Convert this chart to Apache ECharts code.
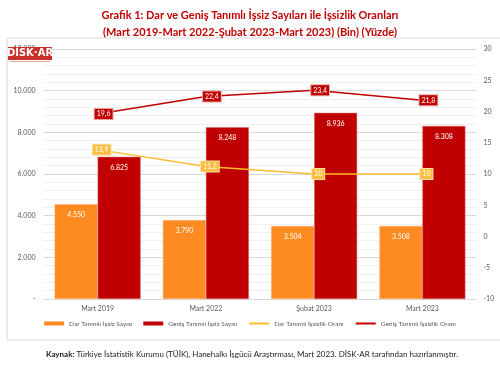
<!DOCTYPE html>
<html>
<head>
<meta charset="utf-8">
<script src="https://cdn.jsdelivr.net/npm/echarts@6/dist/echarts.min.js"></script>
<style>
html,body{margin:0;padding:0;background:#fff;}
#c{width:500px;height:366px;}
</style>
</head>
<body>
<div id="c"></div>
<script>
const categories = ['Mart 2019', 'Mart 2022', 'Şubat 2023', 'Mart 2023'];
const narrowUnemployed = [4550, 3790, 3504, 3508];
const broadUnemployed = [6825, 8248, 8936, 8308];
const narrowRate = [13.9, 11.2, 10, 10];
const broadRate = [19.6, 22.4, 23.4, 21.8];
const seriesNames = ['Dar Tanımlı İşsiz Sayısı', 'Geniş Tanımlı İşsiz Sayısı', 'Dar Tanımlı İşsizlik Oranı', 'Geniş Tanımlı İşsizlik Oranı'];
const titleLines = ['Grafik 1: Dar ve Geniş Tanımlı İşsiz Sayıları ile İşsizlik Oranları', '(Mart 2019-Mart 2022-Şubat 2023-Mart 2023) (Bin) (Yüzde)'];
const sourceBold = 'Kaynak:';
const sourceText = ' Türkiye İstatistik Kurumu (TÜİK), Hanehalkı İşgücü Araştırması, Mart 2023. DİSK-AR tarafından hazırlanmıştır.';

const FONT = 'Lato';
const fmtThousands = v => v === 0 ? '-' : String(v).replace(/\B(?=(\d{3})+(?!\d))/g, '.');
const fmtDec = v => String(v).replace('.', ',');

const chart = echarts.init(document.getElementById('c'), null, {renderer: 'canvas'});
chart.setOption({
  animation: false,
  backgroundColor: '#fff',
  textStyle: {fontFamily: FONT},
  title: {
    text: titleLines.join('\n'),
    left: 'center', top: 2,
    textStyle: {fontFamily: FONT, fontWeight: 'bold', fontSize: 11, color: '#c00000', lineHeight: 17}
  },
  graphic: [
    {type: 'rect', shape: {x: 7, y: 38, width: 500, height: 302}, style: {fill: 'none', stroke: '#d9d9d9', lineWidth: 1}, z: -10},
    {type: 'rect', shape: {x: 8, y: 47, width: 44, height: 13}, style: {fill: '#c9302c'}, z: 100},
    {type: 'text', x: 30, y: 53.5, style: {text: 'DİSK·AR', fill: '#fff', font: 'bold 10px "DejaVu Sans"', align: 'center', verticalAlign: 'middle'}, z: 101},
    {type: 'rect', shape: {x: 10, y: 61, width: 40, height: 1}, style: {fill: '#e7a6a6'}, z: 100},
    {type: 'text', x: 252, y: 354, style: {
      rich: {b: {fontWeight: 'bold', fontSize: 8, fontFamily: FONT, fill: '#222'}, n: {fontSize: 8, fontFamily: FONT, fill: '#222'}},
      text: '{b|' + sourceBold + '}{n|' + sourceText + '}', align: 'center', verticalAlign: 'middle'
    }}
  ],
  legend: {
    bottom: 34, left: 'center',
    itemWidth: 20, itemHeight: 4, itemGap: 11,
    textStyle: {fontFamily: FONT, fontSize: 6.5, color: '#595959'},
    data: [
      {name: seriesNames[0], icon: 'rect', itemStyle: {borderWidth: 0}},
      {name: seriesNames[1], icon: 'rect', itemStyle: {borderWidth: 0}},
      {name: seriesNames[2], itemStyle: {opacity: 0}},
      {name: seriesNames[3], itemStyle: {opacity: 0}}
    ]
  },
  grid: {left: 43.5, right: 23.5, top: 49, bottom: 67},
  xAxis: {
    type: 'category', data: categories,
    axisLine: {lineStyle: {color: '#d9d9d9'}},
    axisTick: {show: false},
    axisLabel: {fontFamily: FONT, fontSize: 7, color: '#595959', margin: 6}
  },
  yAxis: [
    {
      type: 'value', min: 0, max: 12000, interval: 2000,
      axisLabel: {fontFamily: FONT, fontSize: 7, color: '#595959', margin: 8, formatter: fmtThousands},
      axisLine: {show: false}, axisTick: {show: false},
      splitLine: {lineStyle: {color: '#d9d9d9', width: 1}},
      minorTick: {show: false, splitNumber: 5},
      minorSplitLine: {show: true, lineStyle: {color: '#f0f0f0', width: 1}}
    },
    {
      type: 'value', min: -10, max: 30, interval: 5,
      axisLabel: {fontFamily: FONT, fontSize: 7, color: '#595959', margin: 7},
      axisLine: {show: false}, axisTick: {show: false},
      splitLine: {show: false}
    }
  ],
  series: [
    {
      name: seriesNames[0], type: 'bar', data: narrowUnemployed, barWidth: 43, barGap: '0%',
      itemStyle: {color: '#fd8b22', borderColor: '#fdb27a', borderWidth: 0.5},
      label: {show: true, position: 'insideTop', distance: 7, color: '#fff', fontFamily: FONT, fontSize: 7, formatter: p => fmtThousands(p.value)}
    },
    {
      name: seriesNames[1], type: 'bar', data: broadUnemployed, barWidth: 43, barGap: '0%',
      itemStyle: {color: '#c00000', borderColor: '#e07070', borderWidth: 0.5},
      label: {show: true, position: 'insideTop', distance: 7, color: '#fff', fontFamily: FONT, fontSize: 7, formatter: p => fmtThousands(p.value)}
    },
    {
      name: seriesNames[2], type: 'line', yAxisIndex: 1, data: narrowRate,
      symbol: 'circle', symbolSize: 1, itemStyle: {color: '#fdbb2f'},
      lineStyle: {color: '#fdbb2f', width: 1.5},
      z: 5,
      label: {show: true, position: 'inside', offset: [4, 0], color: '#fff', fontFamily: FONT, fontSize: 7,
        backgroundColor: '#fbbd3f', borderColor: '#fde3a6', borderWidth: 1, padding: [2, 2, 1, 2],
        formatter: p => fmtDec(p.value)}
    },
    {
      name: seriesNames[3], type: 'line', yAxisIndex: 1, data: broadRate,
      symbol: 'circle', symbolSize: 1, itemStyle: {color: '#c00000'},
      lineStyle: {color: '#c00000', width: 1.5},
      z: 5,
      label: {show: true, position: 'inside', offset: [6, 0], color: '#fff', fontFamily: FONT, fontSize: 7,
        backgroundColor: '#c00000', borderColor: '#e8a0a0', borderWidth: 1, padding: [2, 2, 1, 2],
        formatter: p => fmtDec(p.value)}
    }
  ]
});
</script>
</body>
</html>
